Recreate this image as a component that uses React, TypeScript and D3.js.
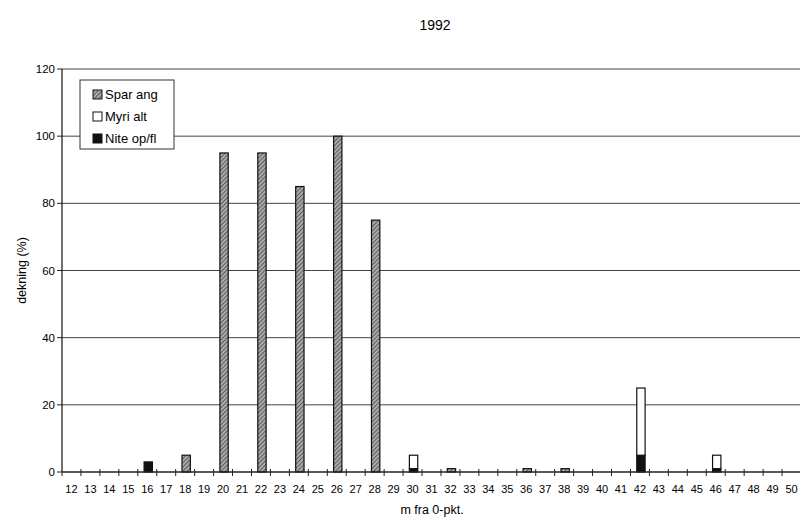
import * as d3 from "d3";

const positions = d3.range(12, 51).map(String);
const sparAng = [0, 0, 0, 0, 0, 0, 5, 0, 95, 0, 95, 0, 85, 0, 100, 0, 75, 0, 0, 0, 1, 0, 0, 0, 1, 0, 1, 0, 0, 0, 0, 0, 0, 0, 0, 0, 0, 0, 0];
const myriAlt = [0, 0, 0, 0, 0, 0, 0, 0, 0, 0, 0, 0, 0, 0, 0, 0, 0, 0, 4, 0, 0, 0, 0, 0, 0, 0, 0, 0, 0, 0, 20, 0, 0, 0, 4, 0, 0, 0, 0];
const niteOpFl = [0, 0, 0, 0, 3, 0, 0, 0, 0, 0, 0, 0, 0, 0, 0, 0, 0, 0, 1, 0, 0, 0, 0, 0, 0, 0, 0, 0, 0, 0, 5, 0, 0, 0, 1, 0, 0, 0, 0];
const yTicks = [0, 20, 40, 60, 80, 100, 120];

// stacked bottom-up: Nite, Myri, Spar
const seriesInfo = [
  { name: "Nite op/fl", values: niteOpFl, fill: "#111" },
  { name: "Myri alt", values: myriAlt, fill: "#fff" },
  { name: "Spar ang", values: sparAng, fill: "url(#hatch)" },
];
const legendOrder = [seriesInfo[2], seriesInfo[1], seriesInfo[0]];

const W = 800;
const H = 518;
const left = 62;
const right = 801;
const top = 69;
const bottom = 472;

export default function App() {
  const x = d3.scaleBand().domain(positions).range([left, right]).padding(0);
  const y = d3.scaleLinear().domain([0, 120]).range([bottom, top]);
  const bw = x.bandwidth() * 0.44;

  const rows = positions.map((p, i) => {
    const r: any = { pos: p };
    seriesInfo.forEach((s) => (r[s.name] = s.values[i]));
    return r;
  });
  const stack = d3.stack<any>().keys(seriesInfo.map((s) => s.name))(rows);

  const font = "Arial, 'Liberation Sans', sans-serif";

  return (
    <svg width={W} height={H} style={{ position: "absolute", left: 0, top: 0, background: "#fff" }} fontFamily={font}>
      <defs>
        <pattern id="hatch" width="3" height="3" patternUnits="userSpaceOnUse" patternTransform="rotate(45)">
          <rect width="3" height="3" fill="#aaa" />
          <line x1="0" y1="0" x2="0" y2="3" stroke="#333" strokeWidth="1.3" />
        </pattern>
      </defs>

      <text x={435} y={30} textAnchor="middle" fontSize={14} fill="#000">1992</text>

      {yTicks.map((t) => (
        <g key={t}>
          {t > 0 && <line x1={left} x2={right} y1={y(t)} y2={y(t)} stroke="#444" strokeWidth={1} />}
          <line x1={left - 5} x2={left} y1={y(t)} y2={y(t)} stroke="#222" />
          <text x={left - 7} y={y(t) + 4} textAnchor="end" fontSize={11.5} fill="#000">{t}</text>
        </g>
      ))}

      {stack.map((layer, li) =>
        layer.map((d, i) =>
          d[1] - d[0] > 0 ? (
            <rect
              key={`${li}-${i}`}
              x={(x(positions[i]) as number) + (x.bandwidth() - bw) / 2 + 1}
              y={y(d[1])}
              width={bw}
              height={y(d[0]) - y(d[1])}
              fill={seriesInfo[li].fill}
              stroke="#111"
              strokeWidth={1.2}
            />
          ) : null
        )
      )}

      <line x1={left} x2={left} y1={top} y2={bottom} stroke="#222" strokeWidth={1.3} />
      <line x1={left} x2={right} y1={bottom} y2={bottom} stroke="#222" strokeWidth={1.3} />

      {positions.map((p) => (
        <g key={p}>
          <line
            x1={(x(p) as number) + x.bandwidth()}
            x2={(x(p) as number) + x.bandwidth()}
            y1={bottom - 3}
            y2={bottom + 4}
            stroke="#222"
          />
          <text x={(x(p) as number) + x.bandwidth() / 2} y={bottom + 21} textAnchor="middle" fontSize={11} fill="#000">
            {p}
          </text>
        </g>
      ))}
      <line x1={left} x2={left} y1={bottom} y2={bottom + 4} stroke="#222" />

      <text x={432} y={514} textAnchor="middle" fontSize={12.5} fill="#000">m fra 0-pkt.</text>
      <text transform={`translate(26, ${(top + bottom) / 2}) rotate(-90)`} textAnchor="middle" fontSize={12.5} fill="#000">
        dekning (%)
      </text>

      <g>
        <rect x={80} y={80} width={94} height={69} fill="#fff" stroke="#333" strokeWidth={1} />
        {legendOrder.map((s, i) => (
          <g key={s.name} transform={`translate(93, ${95 + i * 22})`}>
            <rect x={0} y={-5} width={9} height={9} fill={s.fill} stroke="#111" strokeWidth={1} />
            <text x={12} y={4} fontSize={13} fill="#000">{s.name}</text>
          </g>
        ))}
      </g>
    </svg>
  );
}
